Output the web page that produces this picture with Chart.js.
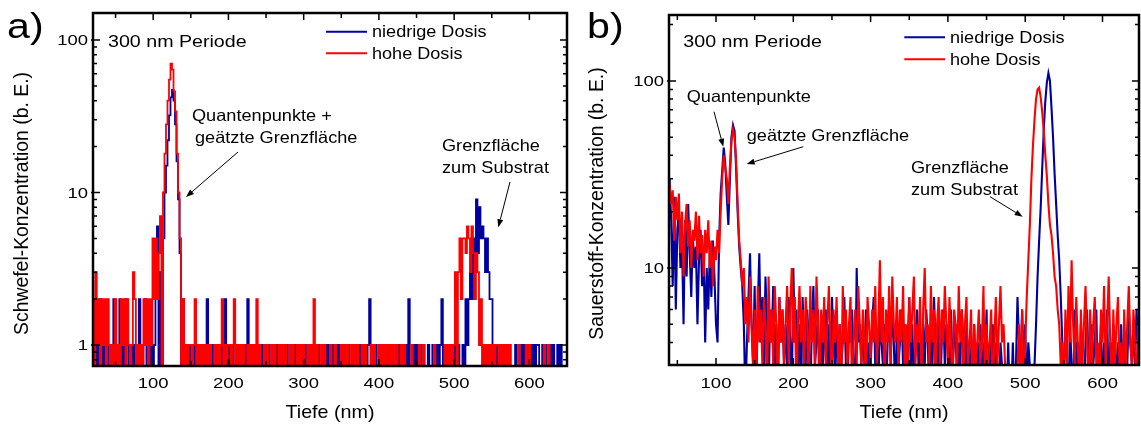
<!DOCTYPE html>
<html>
<head>
<meta charset="utf-8">
<script src="https://cdn.jsdelivr.net/npm/chart.js@4.4.1/dist/chart.umd.min.js"></script>
<style>
  html, body { margin: 0; padding: 0; background: #fff; }
  #wrap { position: relative; width: 1141px; height: 425px; overflow: hidden; }
  canvas { position: absolute; top: 0; }
  #chartA { left: 0; width: 570px; height: 425px; }
  #chartB { left: 570px; width: 571px; height: 425px; }
</style>
</head>
<body>
<div id="wrap">
  <canvas id="chartA" width="570" height="425"></canvas>
  <canvas id="chartB" width="571" height="425"></canvas>
</div>
<script>
// depth grids (nm): panel a 20..650, panel b 40..646, every 2 nm
const startA = 20, stepA = 2;
const startB = 40, stepB = 2;

// a) Schwefel, niedrige Dosis (counts, 0 = nothing detected)
const sulfurLow = [
  1,0,1,0,1,2,0,1,0,1,0,1,1,0,2,0,1,0,2,0,1,0,2,1,0,
  1,0,1,0,1,0,2,1,0,1,2,0,1,0,1,0,1,2,6,0,3,0,5,10,15,
  22,32,42,47,40,28,16,9,4,0,2,0,1,0,1,0,1,0,1,0,1,1,0,1,0,
  1,2,0,1,0,1,0,1,0,0,1,0,1,2,0,1,0,1,0,1,1,0,1,0,1,
  0,1,0,2,0,1,0,0,1,0,1,0,1,0,0,1,0,1,0,0,1,0,1,0,0,
  1,0,1,0,1,0,0,1,0,1,0,0,1,0,1,0,1,0,0,1,0,1,0,1,0,
  1,0,0,1,0,1,0,1,0,1,0,0,1,0,1,0,1,0,0,0,1,0,0,1,0,
  1,0,1,0,0,1,0,0,1,2,0,1,0,1,0,0,1,0,1,0,1,0,0,1,0,
  0,1,0,1,0,0,1,0,1,0,2,0,0,1,0,1,0,0,1,0,0,0,0,1,0,
  0,1,0,0,1,0,1,2,0,1,0,0,0,1,0,0,1,0,1,0,0,1,0,2,1,
  2,3,2,5,3,9,4,8,5,6,5,3,5,3,2,2,0,1,0,1,0,0,1,0,0,
  0,0,1,0,0,0,1,0,0,0,1,0,1,1,0,0,1,0,1,0,1,1,0,0,1,
  0,1,0,0,1,0,1,0,0,1,0,1,0,0,0,0
];
// a) Schwefel, hohe Dosis
const sulfurHigh = [
  2,0,3,1,2,0,2,1,2,0,2,1,0,1,0,2,0,1,0,2,1,2,0,2,1,
  0,1,3,2,0,1,0,1,0,2,1,2,0,2,1,5,2,5,2,4,7,0,10,18,28,
  40,55,70,64,46,34,18,10,5,0,2,0,1,0,1,1,0,1,2,0,1,0,1,0,1,
  0,1,0,1,0,0,1,0,1,0,1,2,0,1,0,1,1,0,1,2,0,1,0,1,0,
  1,0,0,1,0,1,0,1,0,2,0,1,0,0,1,0,1,0,0,1,0,1,0,0,1,
  0,1,0,1,0,0,1,0,1,0,0,1,0,1,0,1,0,0,1,0,1,0,2,0,1,
  0,0,1,0,1,0,0,0,1,0,0,1,0,0,0,1,0,1,0,1,0,0,1,0,1,
  0,1,0,0,1,0,1,0,0,0,1,0,1,0,0,1,0,1,0,1,0,1,0,1,0,
  1,0,1,0,0,1,0,1,0,0,0,0,1,0,0,0,0,1,0,0,1,0,0,0,0,
  0,0,1,0,0,0,0,0,0,1,0,1,0,1,0,1,3,0,3,5,2,5,5,4,6,
  5,3,6,4,2,4,3,1,2,0,1,0,1,0,1,0,1,0,1,1,0,1,0,1,0,
  1,0,1,0,0,0,0,0,1,0,0,0,0,1,0,1,0,0,0,0,0,0,0,0,0,
  1,0,0,1,0,0,0,0,0,0,0,0,0,0,0,0
];
// b) Sauerstoff, niedrige Dosis
const oxygenLow = [
  30,18,8,24,6,16,20,10,14,5,18,9,22,12,7,15,10,13,5,11,16,8,12,4,10,
  6,12,7,14,9,5,4,14,25,33,44,36,24,17,30,50,58,54,34,20,13,10,8,5,2,
  4,7,12,5,3,8,2,6,12,4,7,3,9,5,2,6,4,8,3,5,2,7,4,6,3,
  5,3,7,4,2,10,4,6,3,5,2,7,4,3,6,4,2,5,8,3,4,6,2,5,3,
  4,6,3,5,2,7,4,3,6,2,5,3,4,7,3,2,5,4,6,3,2,10,4,5,3,
  5,3,6,2,4,3,5,7,3,4,2,6,4,3,5,2,4,6,3,7,4,2,5,3,4,
  6,3,5,2,4,7,3,5,2,4,6,3,4,2,5,3,6,4,2,5,3,7,4,3,5,
  2,4,6,3,5,4,2,6,3,4,5,2,4,3,6,4,2,5,3,4,2,3,5,2,4,
  3,5,2,4,3,6,2,4,3,5,2,4,3,2,4,3,2,3,2,4,2,2,4,2,3,
  7,4,3,6,3,5,2,4,3,2,2,3,5,9,14,21,34,55,78,98,110,100,72,50,32,
  22,15,11,7,4,2,2,3,2,5,3,2,6,3,4,2,5,3,2,4,6,3,2,5,3,
  4,6,2,3,5,2,4,3,6,2,4,3,5,2,3,4,2,5,3,4,2,3,6,4,3,
  5,3,6,4
];
// b) Sauerstoff, hohe Dosis
const oxygenHigh = [
  28,22,26,14,24,18,25,12,20,9,17,22,13,18,10,16,14,20,11,19,12,15,9,16,12,
  18,10,14,8,13,11,16,12,20,30,40,34,30,22,35,48,55,50,38,22,14,11,8,10,5,
  7,4,9,5,3,6,2,8,4,6,3,7,5,2,9,4,6,3,8,5,2,7,4,6,3,
  5,8,3,6,10,4,7,2,5,8,4,6,3,7,5,2,8,4,6,3,9,5,2,6,4,
  7,3,5,8,4,2,6,4,7,3,5,2,8,4,6,3,5,7,2,4,6,3,8,5,3,
  6,4,2,7,5,3,6,4,8,3,5,11,4,7,2,6,4,8,3,9,5,4,7,3,6,
  4,8,3,5,2,7,4,6,9,3,5,4,7,2,6,10,4,5,3,8,4,6,2,5,7,
  3,6,4,8,5,3,7,4,2,6,5,3,8,4,6,2,5,7,3,4,6,2,5,3,4,
  6,3,4,8,2,5,3,4,6,2,4,7,3,5,8,4,5,3,2,2,2,2,2,2,2,
  3,5,2,6,2,4,7,11,17,30,45,62,80,90,92,82,68,54,40,31,22,17,15,12,9,
  8,6,5,3,4,2,6,3,8,4,11,5,3,7,4,2,6,3,5,8,4,2,6,3,5,
  7,3,4,2,6,4,8,3,5,9,4,2,6,3,5,7,3,4,2,6,3,5,8,4,3,
  6,4,2,5
];

const seriesNames = ['niedrige Dosis', 'hohe Dosis'];
const xTickLabels = [100, 200, 300, 400, 500, 600];
const yTickLabelsA = [1, 10, 100];
const yTickLabelsB = [10, 100];

const FONT = '"Liberation Sans", Arial, Helvetica, sans-serif';
const BLUE = '#0000a0';
const RED = '#ff0000';

function text(ctx, s, x, y, size, sx, align) {
  ctx.save();
  ctx.font = size + 'px ' + FONT;
  ctx.textAlign = align || 'left';
  ctx.textBaseline = 'alphabetic';
  ctx.translate(x, y);
  ctx.scale(sx, 1);
  ctx.fillText(s, 0, 0);
  ctx.restore();
}

function vtext(ctx, s, x, y, size, sy) {
  ctx.save();
  ctx.font = size + 'px ' + FONT;
  ctx.textAlign = 'center';
  ctx.textBaseline = 'alphabetic';
  ctx.translate(x, y);
  ctx.rotate(-Math.PI / 2);
  ctx.scale(1, sy);
  ctx.fillText(s, 0, 0);
  ctx.restore();
}

function arrow(ctx, x1, y1, x2, y2) {
  const ang = Math.atan2(y2 - y1, x2 - x1);
  const len = 8, half = 3;
  const bx = x2 - len * Math.cos(ang), by = y2 - len * Math.sin(ang);
  ctx.save();
  ctx.strokeStyle = '#000';
  ctx.fillStyle = '#000';
  ctx.lineWidth = 1;
  ctx.beginPath();
  ctx.moveTo(x1, y1);
  ctx.lineTo(bx, by);
  ctx.stroke();
  ctx.beginPath();
  ctx.moveTo(x2, y2);
  ctx.lineTo(bx + half * Math.sin(ang), by - half * Math.cos(ang));
  ctx.lineTo(bx - half * Math.sin(ang), by + half * Math.cos(ang));
  ctx.closePath();
  ctx.fill();
  ctx.restore();
}

function framePlugin(p) {
  return {
    id: 'frame',
    afterDatasetsDraw(chart) {
      const ctx = chart.ctx, a = chart.chartArea;
      const xs = chart.scales.x, ys = chart.scales.y;
      ctx.save();
      ctx.strokeStyle = '#000';
      ctx.lineWidth = 1.5;
      ctx.beginPath();
      for (let v = 50; v < p.xMax; v += 50) {
        if (v <= p.xMin) continue;
        const x = xs.getPixelForValue(v);
        const len = v % 100 === 0 ? 7 : 5;
        ctx.moveTo(x, a.top); ctx.lineTo(x, a.top + len);
        ctx.moveTo(x, a.bottom); ctx.lineTo(x, a.bottom - len);
      }
      const e0 = Math.floor(Math.log10(p.yMin)), e1 = Math.ceil(Math.log10(p.yMax));
      for (let e = e0; e <= e1; e++) {
        for (let m = 1; m <= 9; m++) {
          const v = m * Math.pow(10, e);
          if (v <= p.yMin * 1.02 || v >= p.yMax) continue;
          const y = ys.getPixelForValue(v);
          const major = m === 1;
          ctx.moveTo(a.left - (major ? 2 : 0), y); ctx.lineTo(a.left + (major ? 7 : 4), y);
          ctx.moveTo(a.right, y); ctx.lineTo(a.right - (major ? 7 : 4), y);
        }
      }
      ctx.stroke();
      ctx.lineWidth = 2.5;
      ctx.strokeRect(a.left, a.top, a.right - a.left, a.bottom - a.top);

      ctx.fillStyle = '#000';
      xTickLabels.forEach(v => text(ctx, String(v), xs.getPixelForValue(v), 388, 15.5, 1.19, 'center'));
      p.yLabels.forEach(v => text(ctx, String(v), a.left - 5, ys.getPixelForValue(v) + 5.5, 15.5, 1.19, 'right'));
      text(ctx, 'Tiefe (nm)', (a.left + a.right) / 2, 417.5, 17.7, 1.115, 'center');
      vtext(ctx, p.yTitle, p.yTitleX, 203.5, 19.4, 1.08);

      text(ctx, p.tag, p.tagX, 37.5, 35.5, 1.16, 'left');
      text(ctx, '300 nm Periode', p.periodX, 46.5, 16.5, 1.19, 'left');

      // legend
      const lg = p.legend;
      [BLUE, RED].forEach((c, i) => {
        const y = lg.y[i];
        ctx.strokeStyle = c;
        ctx.lineWidth = 2;
        ctx.beginPath();
        ctx.moveTo(lg.x0, y); ctx.lineTo(lg.x1, y);
        ctx.stroke();
        text(ctx, seriesNames[i], lg.x1 + 5, y + 5.7, 16, 1.13, 'left');
      });

      p.notes.forEach(n => text(ctx, n[0], n[1], n[2], 16.5, 1.1, 'left'));
      p.arrows.forEach(r => arrow(ctx, r[0], r[1], r[2], r[3]));
      ctx.restore();
    }
  };
}

function buildChart(id, p) {
  const pts = (vals, start, step) => vals.map((v, i) => ({ x: start + step * i, y: v > 0 ? v : p.yMin }));
  const line = { borderWidth: p.lineWidth, stepped: p.stepped, borderJoinStyle: 'miter' };
  return new Chart(document.getElementById(id), {
    type: 'line',
    data: {
      datasets: [
        Object.assign({ label: seriesNames[0], data: pts(p.low, p.start, p.step), borderColor: BLUE, order: 2 }, line),
        Object.assign({ label: seriesNames[1], data: pts(p.high, p.start, p.step), borderColor: RED, order: 1 }, line)
      ]
    },
    options: {
      responsive: false,
      animation: false,
      devicePixelRatio: 1,
      events: [],
      layout: { padding: p.pad },
      elements: { point: { radius: 0, hoverRadius: 0 }, line: { tension: 0 } },
      scales: {
        x: { type: 'linear', min: p.xMin, max: p.xMax, bounds: 'data', display: false },
        y: { type: 'logarithmic', min: p.yMin, max: p.yMax, bounds: 'data', display: false }
      },
      plugins: { legend: { display: false }, tooltip: { enabled: false } }
    },
    plugins: [framePlugin(p)]
  });
}

buildChart('chartA', {
  low: sulfurLow, high: sulfurHigh, start: startA, step: stepA,
  stepped: 'middle', lineWidth: 1.8,
  xMin: 20, xMax: 650, yMin: 0.728, yMax: 150.3,
  pad: { left: 93, right: 3, top: 13, bottom: 59 },
  yLabels: yTickLabelsA,
  yTitle: 'Schwefel-Konzentration (b. E.)', yTitleX: 28.3,
  tag: 'a)', tagX: 7, periodX: 108,
  legend: { x0: 326, x1: 367, y: [31.7, 53.3] },
  notes: [
    ['Quantenpunkte +', 192, 120.5],
    ['geätzte Grenzfläche', 195, 142.5],
    ['Grenzfläche', 442, 150.7],
    ['zum Substrat', 442, 172.7]
  ],
  arrows: [[238, 152, 186, 197], [510, 182, 498.3, 227.3]]
});

buildChart('chartB', {
  low: oxygenLow, high: oxygenHigh, start: startB, step: stepB,
  stepped: false, lineWidth: 2.1,
  xMin: 39.2, xMax: 647.2, yMin: 3.03, yMax: 225,
  pad: { left: 99, right: 2, top: 15, bottom: 60 },
  yLabels: yTickLabelsB,
  yTitle: 'Sauerstoff-Konzentration (b. E.)', yTitleX: 33.3,
  tag: 'b)', tagX: 17, periodX: 113.3,
  legend: { x0: 334.3, x1: 375, y: [37.3, 59.3] },
  notes: [
    ['Quantenpunkte', 116.7, 101.7],
    ['geätzte Grenzfläche', 176.7, 141],
    ['Grenzfläche', 341, 173.3],
    ['zum Substrat', 341, 195]
  ],
  arrows: [[144, 111.7, 153.3, 146.7], [233.3, 146.7, 176.7, 164], [420, 196.7, 452.7, 216.7]]
});
</script>
</body>
</html>
